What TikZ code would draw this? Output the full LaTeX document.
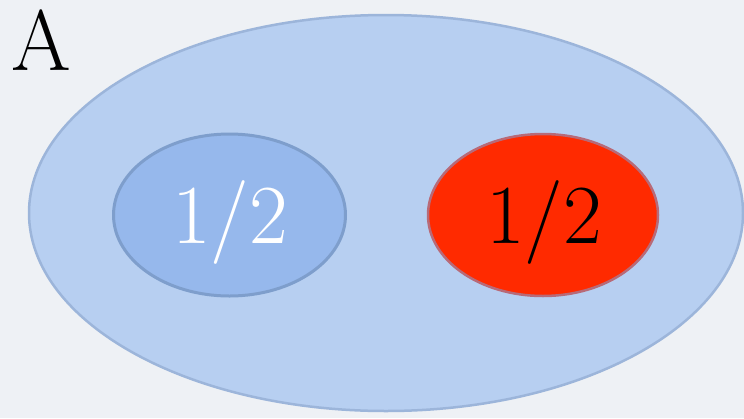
\documentclass[tikz,border=0pt]{standalone}
\begin{document}
\begin{tikzpicture}[x=1pt,y=-1pt,
  bigell/.style={fill=outerfill, draw=outerline, line width=2.5pt},
  leftell/.style={fill=leftfill, draw=leftline, line width=3pt},
  redell/.style={fill=redfill, draw=redline, line width=2.5pt},
  lbl/.style={font=\fontsize{84}{88}\selectfont}]
\definecolor{bgcol}{HTML}{EEF1F5}
\definecolor{outerfill}{HTML}{B7CFF1}
\definecolor{outerline}{HTML}{9CB5DA}
\definecolor{leftfill}{HTML}{96B8EC}
\definecolor{leftline}{HTML}{7E9ECC}
\definecolor{redfill}{HTML}{FF2A00}
\definecolor{redline}{HTML}{B86A78}
\fill[bgcol] (0,0) rectangle (744,418);
\useasboundingbox (0,0) rectangle (744,418);
\path[bigell] (386,213) ellipse [x radius=357, y radius=198];
\path[leftell] (229.5,215) ellipse [x radius=116, y radius=81];
\path[redell] (543,215) ellipse [x radius=115, y radius=81];
\node[lbl, text=white] (l) at (230,222) {1/2};
\node[lbl, text=black] (r) at (544,222) {1/2};
\node[font=\fontsize{86}{90}\selectfont] (a) at (41,40) {A};
\end{tikzpicture}
\end{document}
